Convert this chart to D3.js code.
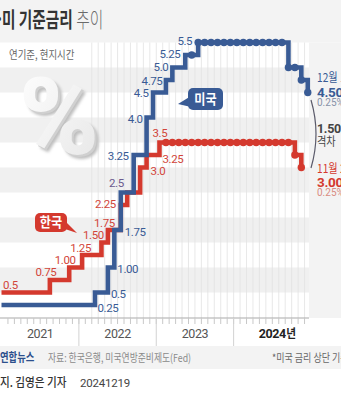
<!DOCTYPE html>
<html>
<head>
<meta charset="utf-8">
<script src="https://cdn.jsdelivr.net/npm/d3@7"></script>
<style>
  body { margin: 0; background: #fff; }
  svg { display: block; }
</style>
</head>
<body>
<svg width="341" height="400"></svg>
<script>
// monthly policy rates, Jan 2021 - Dec 2024 (US = upper bound of target range)
const months = d3.timeMonth.range(new Date(2021, 0, 1), new Date(2025, 0, 1));
const years = [2021, 2022, 2023, 2024];

const usRate = [
    0.25, 0.25, 0.25, 0.25, 0.25, 0.25, 0.25, 0.25, 0.25, 0.25, 0.25, 0.25,
    0.25, 0.25, 0.5, 0.5, 1.00, 1.75, 2.5, 2.5, 3.25, 3.25, 4.0, 4.5,
    4.5, 4.75, 5.0, 5.0, 5.25, 5.25, 5.5, 5.5, 5.5, 5.5, 5.5, 5.5,
    5.5, 5.5, 5.5, 5.5, 5.5, 5.5, 5.5, 5.5, 5.0, 5.0, 4.75, 4.5
];
const krRate = [
    0.5, 0.5, 0.5, 0.5, 0.5, 0.5, 0.5, 0.75, 0.75, 0.75, 1.00, 1.00,
    1.25, 1.25, 1.25, 1.50, 1.75, 1.75, 2.25, 2.5, 2.5, 3.0, 3.25, 3.25,
    3.5, 3.5, 3.5, 3.5, 3.5, 3.5, 3.5, 3.5, 3.5, 3.5, 3.5, 3.5,
    3.5, 3.5, 3.5, 3.5, 3.5, 3.5, 3.5, 3.5, 3.5, 3.25, 3.0
];

// step labels as printed next to the lines
const usLabels = ["0.25", "0.5", "1.00", "1.75", "3.25", "4.0", "4.5", "4.75", "5.0", "5.25", "5.5"];
const krLabels = ["0.5", "0.75", "1.00", "1.25", "1.50", "1.75", "2.25", "3.0", "3.25", "3.5"];
const sharedLabel = "2.5";
const usLastDate = "12월 18일";
const krLastDate = "11월 28일";

var svg = d3.select("svg"),
    W = 341,
    H = 400,
    plotRight = 309,
    axisY = 318;

const KR = "'Noto Sans CJK KR', 'Noto Sans', sans-serif";
const NUM = "Roboto, 'Noto Sans', sans-serif";
const blue = "#395b95", red = "#d4392e", purple = "#6b5a8e";

var x = d3.scaleBand().domain(d3.range(months.length)).range([1.5, 311]);
var y = d3.scaleLinear().domain([0, 6]).range([317.5, 17.5]);
const mid = i => x(i) + x.bandwidth() / 2;

// korean text is set in a narrow face, squeeze it
function kText(parent, str, px, py, size, sx) {
    return parent.append("text")
        .attr("transform", "translate(" + px + "," + py + ") scale(" + sx + ",1)")
        .attr("font-family", KR)
        .attr("font-size", size)
        .text(str);
}

// backgrounds
svg.append("rect").attr("width", W).attr("height", H).attr("fill", "#fff");
svg.append("rect").attr("width", W).attr("height", y(5.5)).attr("fill", "#f3f3f3");
svg.append("rect")
    .attr("x", plotRight).attr("y", y(5.5))
    .attr("width", W - plotRight).attr("height", axisY - y(5.5))
    .attr("fill", "#f3f3f3");
svg.append("rect").attr("y", 346).attr("width", W).attr("height", 23).attr("fill", "#f3f3f3");

// horizontal bands every other half point
svg.selectAll(".band")
    .data(d3.range(0.5, 5.5, 1))
    .enter().append("rect")
    .attr("class", "band")
    .attr("x", 0)
    .attr("width", plotRight)
    .attr("y", d => y(d + 0.5))
    .attr("height", d => y(d) - y(d + 0.5))
    .attr("fill", "#f0f0f0");

// monthly grid from spring 2022
svg.append("g").selectAll("line")
    .data(d3.range(14, months.length))
    .enter().append("line")
    .attr("x1", d => x(d)).attr("x2", d => x(d))
    .attr("y1", y(5.5)).attr("y2", axisY)
    .attr("stroke", "#e2e2e2")
    .attr("stroke-width", 0.8);

// big percent sign, raised look
var defs = svg.append("defs");
var grad = defs.append("linearGradient").attr("id", "pctFill")
    .attr("x1", 0).attr("y1", 0).attr("x2", 1).attr("y2", 1);
grad.append("stop").attr("offset", "0%").attr("stop-color", "#ffffff");
grad.append("stop").attr("offset", "100%").attr("stop-color", "#e6e6e6");
var raise = defs.append("filter").attr("id", "raise")
    .attr("x", "-20%").attr("y", "-20%").attr("width", "150%").attr("height", "150%");
raise.append("feOffset").attr("in", "SourceAlpha").attr("dx", 2).attr("dy", 2).attr("result", "side");
raise.append("feFlood").attr("flood-color", "#d0d0d0");
raise.append("feComposite").attr("in2", "side").attr("operator", "in").attr("result", "sideFill");
raise.append("feOffset").attr("in", "SourceAlpha").attr("dx", 4).attr("dy", 4).attr("result", "drop");
raise.append("feGaussianBlur").attr("in", "drop").attr("stdDeviation", 1.5).attr("result", "dropBlur");
raise.append("feFlood").attr("flood-color", "#bdbdbd");
raise.append("feComposite").attr("in2", "dropBlur").attr("operator", "in").attr("result", "shadow");
var merge = raise.append("feMerge");
merge.append("feMergeNode").attr("in", "shadow");
merge.append("feMergeNode").attr("in", "sideFill");
merge.append("feMergeNode").attr("in", "SourceGraphic");

svg.append("text")
    .attr("x", 19).attr("y", 154)
    .attr("font-family", NUM).attr("font-weight", 900).attr("font-size", 108)
    .attr("fill", "url(#pctFill)")
    .attr("filter", "url(#raise)")
    .text("%");

// x axis
svg.append("line")
    .attr("x1", 0).attr("x2", plotRight)
    .attr("y1", axisY).attr("y2", axisY)
    .attr("stroke", "#a9a9a9");
svg.append("g").selectAll("line")
    .data(d3.range(1, months.length))
    .enter().append("line")
    .attr("x1", d => x(d)).attr("x2", d => x(d))
    .attr("y1", axisY).attr("y2", axisY + 6)
    .attr("stroke", "#c8c8c8");
svg.append("g").selectAll("line")
    .data(years.slice(1))
    .enter().append("line")
    .attr("x1", d => x((d - 2021) * 12)).attr("x2", d => x((d - 2021) * 12))
    .attr("y1", axisY).attr("y2", 346)
    .attr("stroke", "#d2d2d2");

years.forEach(function (yr, k) {
    let i0 = (yr - 2021) * 12;
    let cx = (x(i0) + x(i0 + 11) + x.bandwidth()) / 2;
    let last = k === years.length - 1;
    let t = svg.append("text")
        .attr("x", cx).attr("y", 338)
        .attr("text-anchor", "middle")
        .attr("font-family", NUM).attr("font-size", 12.5)
        .attr("letter-spacing", -0.4)
        .attr("font-weight", last ? 700 : 400)
        .attr("fill", last ? "#222" : "#555")
        .text(yr);
    if (last) {
        let w = t.node().getComputedTextLength();
        kText(svg, "년", cx + w / 2 + 0.5, 338, 12.5, 0.85)
            .attr("font-weight", 700).attr("fill", "#222");
    }
});

// step lines
var line = d3.line()
    .x(d => d.x)
    .y(d => y(d.v))
    .curve(d3.curveStepAfter);

function points(data) {
    return [{ x: x.range()[0], v: data[0] }].concat(data.map((v, i) => ({ x: mid(i), v: v })));
}

function drawSeries(data, color, dotFrom) {
    svg.append("path")
        .datum(points(data))
        .attr("d", line)
        .attr("fill", "none")
        .attr("stroke", color)
        .attr("stroke-width", 4.6);
    svg.append("g").selectAll("circle")
        .data(data.map((v, i) => ({ i: i, v: v })).filter(d => d.i >= dotFrom))
        .enter().append("circle")
        .attr("cx", d => mid(d.i))
        .attr("cy", d => y(d.v))
        .attr("r", 3.7)
        .attr("fill", color);
}

drawSeries(krRate, red, 25);
drawSeries(usRate, blue, 29);

// where a level first appears and how far it runs
function segment(data, val) {
    let first = data.indexOf(val);
    let last = first;
    while (data[last + 1] === val) last++;
    return {
        xs: first === 0 ? x.range()[0] : mid(first),
        xe: last + 1 < data.length ? mid(last + 1) : mid(last),
        y: y(val)
    };
}

// [anchor, side, dx, dy]
const usPlace = [
    ["start", "xe", 2.5, 7], ["start", "xe", 3, 5], ["start", "xe", 3, 5.5], ["start", "xe", 4, 6],
    ["end", "xs", -5, 5], ["end", "xs", -4, 5.5], ["end", "xs", -4.5, 4.5], ["end", "xs", -3.5, 5],
    ["end", "xs", -4, 3.5], ["end", "xs", -5, 2.5], ["end", "xs", -6, 2.5]
];
const krPlace = [
    ["start", "xs", 1.5, -4], ["middle", "xs", -4, -4], ["middle", "xs", -4, -3.5], ["middle", "xs", -1.5, -3.5],
    ["middle", "xs", -8, -4], ["middle", "xs", -3.5, -3.5], ["end", "xs", -5, 3],
    ["start", "xe", 4, 7], ["start", "xe", 3, 8], ["start", "xs", -7, -5.5]
];

function drawLabels(labels, place, data, color) {
    labels.forEach(function (lab, k) {
        let s = segment(data, +lab);
        let p = place[k];
        svg.append("text")
            .attr("x", s[p[1]] + p[2])
            .attr("y", s.y + p[3])
            .attr("text-anchor", p[0])
            .attr("font-family", NUM).attr("font-size", 11.5)
            .attr("letter-spacing", -0.4)
            .attr("fill", color)
            .text(lab);
    });
}

drawLabels(usLabels, usPlace, usRate, blue);
drawLabels(krLabels, krPlace, krRate, "#d2453a");

let both = segment(usRate, +sharedLabel);
svg.append("text")
    .attr("x", both.xs + 3).attr("y", both.y - 5.5)
    .attr("text-anchor", "end")
    .attr("font-family", NUM).attr("font-size", 11.5)
    .attr("letter-spacing", -0.4)
    .attr("fill", purple)
    .text(sharedLabel);

// name tags
function tag(bx, by, bw, bh, tail, color, name) {
    let g = svg.append("g");
    g.append("polygon").attr("points", tail.map(p => p.join(",")).join(" ")).attr("fill", color);
    g.append("rect")
        .attr("x", bx).attr("y", by).attr("width", bw).attr("height", bh)
        .attr("rx", 5).attr("fill", color);
    kText(g, name, bx + bw / 2, by + bh / 2 + 4.8, 13.5, 0.9)
        .attr("text-anchor", "middle")
        .attr("font-weight", 700)
        .attr("fill", "#fff");
}
tag(188, 88, 35, 22, [[191, 96], [178, 104], [191, 107]], blue, "미국");
tag(35, 213, 32, 19, [[62, 218], [77, 233], [62, 228]], red, "한국");

// latest values on the right
let usLast = usRate[usRate.length - 1];
let krLast = krRate[krRate.length - 1];
let fmt = d3.format(".2f");

kText(svg, usLastDate, 317, 82, 12, 0.85).attr("fill", blue);
svg.append("text")
    .attr("x", 317).attr("y", y(usLast) + 4.5)
    .attr("font-family", NUM).attr("font-weight", 700).attr("font-size", 13.5)
    .attr("letter-spacing", -0.3)
    .attr("fill", blue)
    .text(fmt(usLast) + "%");
svg.append("text")
    .attr("x", 317).attr("y", 106)
    .attr("font-family", NUM).attr("font-size", 10)
    .attr("fill", "#8792a8")
    .text("0.25%p 인하");

svg.append("path")
    .attr("d", "M311,100 Q321,134 311,168")
    .attr("fill", "none")
    .attr("stroke", "#5a5a6a")
    .attr("stroke-width", 1.2);
svg.append("text")
    .attr("x", 317).attr("y", 133)
    .attr("font-family", NUM).attr("font-weight", 700).attr("font-size", 12.5)
    .attr("letter-spacing", -0.3)
    .attr("fill", "#444")
    .text(fmt(usLast - krLast) + "%p");
kText(svg, "격차", 317, 146, 12, 0.85).attr("fill", "#444");

kText(svg, krLastDate, 317, 173, 12, 0.85).attr("fill", red);
svg.append("text")
    .attr("x", 317).attr("y", 187)
    .attr("font-family", NUM).attr("font-weight", 700).attr("font-size", 13.5)
    .attr("letter-spacing", -0.3)
    .attr("fill", red)
    .text(fmt(krLast) + "%");
svg.append("text")
    .attr("x", 317).attr("y", 196)
    .attr("font-family", NUM).attr("font-size", 10)
    .attr("fill", "#d98c82")
    .text("0.25%p 인하");

// title
var title = svg.append("g").attr("transform", "translate(4,27) scale(0.7,1)");
title.append("text")
    .attr("text-anchor", "end")
    .attr("font-family", KR).attr("font-size", 21).attr("font-weight", 700)
    .attr("fill", "#333")
    .text("한·");
title.append("text")
    .attr("x", -3)
    .attr("font-family", KR).attr("font-size", 21).attr("font-weight", 700)
    .attr("fill", "#333")
    .text("미 기준금리 ")
    .append("tspan")
    .attr("font-weight", 300)
    .attr("fill", "#6a6a6a")
    .text("추이");

kText(svg, "연기준, 현지시간", 9, 59, 11.5, 0.82).attr("fill", "#666");

// footer
kText(svg, "연합뉴스", 0, 362, 12, 0.78).attr("font-weight", 700).attr("fill", "#2c4f8c");
kText(svg, "자료: 한국은행, 미국연방준비제도(Fed)", 48, 362, 11, 0.8).attr("fill", "#8a8a8a");
kText(svg, "*미국 금리 상단 기준", 272, 362, 11, 0.82).attr("fill", "#666");
kText(svg, "지. 김영은 기자", 0, 387, 12.5, 0.85).attr("fill", "#333").attr("font-weight", 500);
svg.append("text")
    .attr("x", 80).attr("y", 387)
    .attr("font-family", NUM).attr("font-size", 11.5)
    .attr("letter-spacing", -0.2)
    .attr("fill", "#444")
    .text("20241219");
</script>
</body>
</html>
